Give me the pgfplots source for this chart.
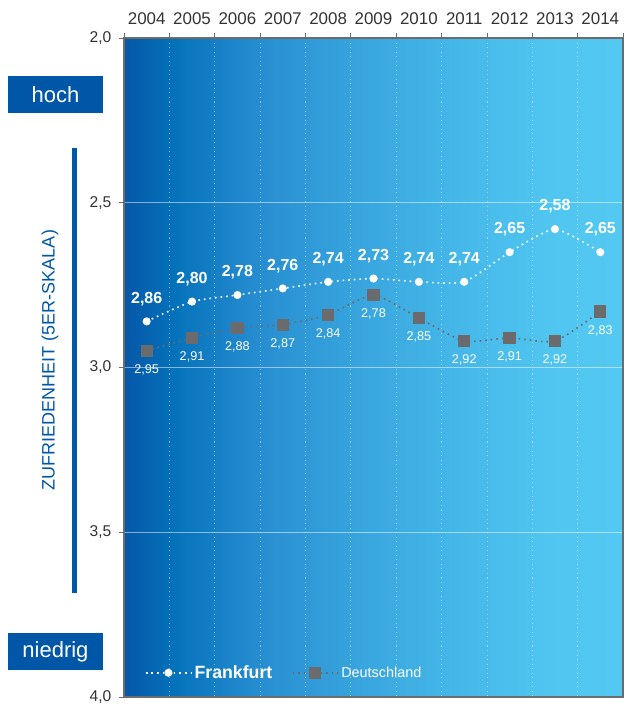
\documentclass[border=0pt]{standalone}
\usepackage{fontspec}
\setmainfont{Liberation Sans}
\usepackage{pgfplots}
\pgfplotsset{compat=1.18}

\definecolor{bandblue}{HTML}{0057A8}
\definecolor{markgray}{HTML}{6B6B6E}
\definecolor{tickgray}{HTML}{333333}
\definecolor{bg0}{HTML}{0657A8}
\definecolor{bg1}{HTML}{0472BA}
\definecolor{bg2}{HTML}{1A82C8}
\definecolor{bg3}{HTML}{2A92D3}
\definecolor{bg4}{HTML}{3AA8E0}
\definecolor{bg5}{HTML}{47BAEA}
\definecolor{bg6}{HTML}{50C5F0}
\definecolor{bg7}{HTML}{53C9F2}

% colours run left to right over 25bp..75bp of the shading
\pgfdeclarehorizontalshading{bgshade}{100bp}{color(0bp)=(bg0); color(25bp)=(bg0);
  color(30bp)=(bg1); color(35bp)=(bg2); color(40bp)=(bg3); color(50bp)=(bg4);
  color(60bp)=(bg5); color(67.5bp)=(bg6); color(75bp)=(bg7); color(100bp)=(bg7)}

\begin{document}
\begin{tikzpicture}
\path[use as bounding box] (-93pt,-7.5pt) rectangle (375.75pt,522.75pt);
\begin{axis}[
    at={(0,0)}, anchor=south west,
    scale only axis, width=374.25pt, height=494.25pt,
    xmin=2003.5, xmax=2014.5,
    ymin=2, ymax=4, y dir=reverse,
    axis background/.style={shading=bgshade},
    axis line style={draw=gray!85!black, line width=0.8pt},
    xtick={2003.5,2004.5,2005.5,2006.5,2007.5,2008.5,2009.5,2010.5,2011.5,2012.5,2013.5,2014.5},
    xticklabels={},
    extra x ticks={2004,2005,2006,2007,2008,2009,2010,2011,2012,2013,2014},
    extra x tick labels={2004,2005,2006,2007,2008,2009,2010,2011,2012,2013,2014},
    extra x tick style={major tick length=0pt, grid=none,
        xticklabel style={yshift=6.5pt}},
    xtick pos=right, xticklabel pos=right,
    ytick={2,2.5,3,3.5,4}, ytick pos=left,
    tick align=outside, major tick length=4pt,
    tick style={gray!85!black, line width=0.6pt},
    xmajorgrids, ymajorgrids,
    x grid style={white, dash pattern=on 0.8pt off 2.6pt, line width=0.6pt, opacity=0.45},
    y grid style={white, line width=0.7pt, opacity=0.5},
    /pgf/number format/assume math mode=true,
    xticklabel style={font=\fontsize{12.7}{14}\selectfont, text=tickgray},
    yticklabel style={font=\fontsize{11.7}{14}\selectfont, text=tickgray, xshift=-2pt,
        /pgf/number format/.cd, use comma, fixed, fixed zerofill, precision=1},
    legend style={at={(axis description cs:0,0)}, anchor=west, xshift=15.5pt, yshift=18.2pt,
        draw=none, fill=none, text=white, inner sep=0pt,
        /tikz/every even column/.append style={column sep=12.5pt}},
    legend columns=2,
    legend image code/.code={\draw[mark repeat=2, mark phase=2, #1]
        plot coordinates {(0pt,0pt) (17pt,0pt) (34pt,0pt)};},
]
% Frankfurt
\addplot[white, line width=1.2pt, dash pattern=on 1.2pt off 3pt, smooth, tension=0.35,
    mark=*, mark size=2.4pt, mark options={solid, fill=white, draw=white},
    nodes near coords,
    nodes near coords style={anchor=center, yshift=17pt, text=white,
        font=\bfseries\fontsize{12}{14}\selectfont,
        /pgf/number format/.cd, use comma, fixed, fixed zerofill, precision=2}]
coordinates {
    (2004,2.86) (2005,2.80) (2006,2.78) (2007,2.76) (2008,2.74) (2009,2.73)
    (2010,2.74) (2011,2.74) (2012,2.65) (2013,2.58) (2014,2.65)
};
\addlegendentry{\bfseries\fontsize{13.3}{15}\selectfont Frankfurt}
% Deutschland
\addplot[markgray, line width=1.2pt, dash pattern=on 1.2pt off 3pt, smooth, tension=0.35,
    mark=square*, mark size=4pt, mark options={solid, fill=markgray, draw=markgray},
    nodes near coords,
    nodes near coords style={anchor=center, yshift=-14.25pt, text=white,
        font=\fontsize{9.5}{12}\selectfont,
        /pgf/number format/.cd, use comma, fixed, fixed zerofill, precision=2}]
coordinates {
    (2004,2.95) (2005,2.91) (2006,2.88) (2007,2.87) (2008,2.84) (2009,2.78)
    (2010,2.85) (2011,2.92) (2012,2.91) (2013,2.92) (2014,2.83)
};
\addlegendentry{\fontsize{10.8}{13}\selectfont\raisebox{-1.2pt}{Deutschland}}
\end{axis}
% left annotations
\fill[bandblue] (-39pt,78pt) rectangle (-35.25pt,411.75pt);
\node[fill=bandblue, text=white, minimum width=71.25pt, minimum height=27.75pt,
    inner sep=0pt, font=\fontsize{16.5}{18}\selectfont] at (-51.4pt,451.9pt) {hoch};
\node[fill=bandblue, text=white, minimum width=71.25pt, minimum height=27.75pt,
    inner sep=0pt, font=\fontsize{16.5}{18}\selectfont] at (-51.4pt,33.75pt) {niedrig};
\node[rotate=90, text=bandblue, font=\fontsize{13.5}{16}\selectfont]
    at (-55.5pt,252.75pt) {ZUFRIEDENHEIT (5ER-SKALA)};
\end{tikzpicture}
\end{document}
